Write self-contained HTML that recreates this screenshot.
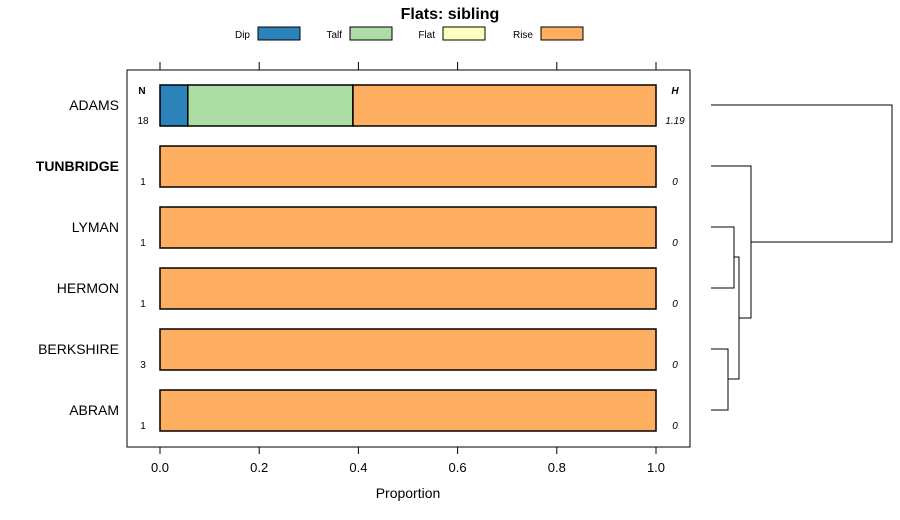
<!DOCTYPE html>
<html><head><meta charset="utf-8"><style>
body{margin:0;background:#fff;}
svg{display:block;font-family:"Liberation Sans",sans-serif;}
</style></head><body>
<svg id="c" width="900" height="520" viewBox="0 0 900 520">
<text x="450" y="19" text-anchor="middle" font-size="16" font-weight="bold">Flats: sibling</text>
<g id="legend"></g>
<rect x="127" y="70" width="563" height="377" fill="none" stroke="#000"/>
<g id="axes"></g>
<g id="bars"></g>
<g id="dendro" stroke="#000" stroke-width="1" fill="none">
<path d="M711 105H892V242H751"/>
<path d="M711 166H751V318H739"/>
<path d="M711 227H734V288H711"/>
<path d="M734 257H739V379H728"/>
<path d="M711 349H728V410H711"/>
</g>
<text x="142" y="94" font-size="10" font-weight="bold" text-anchor="middle">N</text>
<text x="675" y="94" font-size="10" font-weight="bold" font-style="italic" text-anchor="middle">H</text>
<text x="408" y="498" font-size="14" text-anchor="middle">Proportion</text>
</svg>
<script>
const categories=["ADAMS","TUNBRIDGE","LYMAN","HERMON","BERKSHIRE","ABRAM"];
const seriesNames=["Dip","Talf","Flat","Rise"];
const dipVals=[0.056,0,0,0,0,0];
const talfVals=[0.333,0,0,0,0,0];
const flatVals=[0,0,0,0,0,0];
const riseVals=[0.611,1,1,1,1,1];
const nVals=["18","1","1","1","3","1"];
const hVals=["1.19","0","0","0","0","0"];
const tickVals=[0,0.2,0.4,0.6,0.8,1.0];
const tickLabels=["0.0","0.2","0.4","0.6","0.8","1.0"];
const colors=["#2b83ba","#abdda4","#ffffbf","#fdae61"];
const NS="http://www.w3.org/2000/svg";
const xs=v=>160+v*496;
const ys=i=>105+i*61;
function mk(t,a,p,txt){const e=document.createElementNS(NS,t);for(const k in a)e.setAttribute(k,a[k]);if(txt!==undefined)e.textContent=txt;p.appendChild(e);return e;}
const ax=document.getElementById('axes');
tickVals.forEach((v,i)=>{
 let l=mk('line',{x1:xs(v),x2:xs(v),y1:62,y2:70,stroke:'#000'},ax);
 
 l=mk('line',{x1:xs(v),x2:xs(v),y1:447,y2:454,stroke:'#000'},ax);
 
 const t=mk('text',{x:xs(v),y:472,'font-size':13,'text-anchor':'middle'},ax,tickLabels[i]);
 
});
const lg=document.getElementById('legend');
const lx=[258,350,443,541];
seriesNames.forEach((s,i)=>{
 const t=mk('text',{x:lx[i]-8,y:38,'font-size':10,'text-anchor':'end'},lg,s);
 
 const r=mk('rect',{x:lx[i],y:27,width:42,height:13,fill:colors[i],stroke:'#000'},lg);
 
});
const g=document.getElementById('bars');
const series=[dipVals,talfVals,flatVals,riseVals];
categories.forEach((c,i)=>{
 const y=ys(i);
 const lab=mk('text',{x:119,y:y+5,'font-size':14,'text-anchor':'end','font-weight':i==1?'bold':'normal'},g,c);
 
 let cum=0;
 series.forEach((s,k)=>{
  if(s[i]>0){
   const r=mk('rect',{x:xs(cum),y:y-20,width:xs(cum+s[i])-xs(cum),height:41,fill:colors[k],stroke:'#000','stroke-width':1.5},g);
   
  }
  cum+=s[i];
 });
 const n=mk('text',{x:143,y:y+19,'font-size':10,'text-anchor':'middle'},g,nVals[i]);
 
 const h=mk('text',{x:675,y:y+19,'font-size':10,'font-style':'italic','text-anchor':'middle'},g,hVals[i]);
 
});
</script>
</body></html>
